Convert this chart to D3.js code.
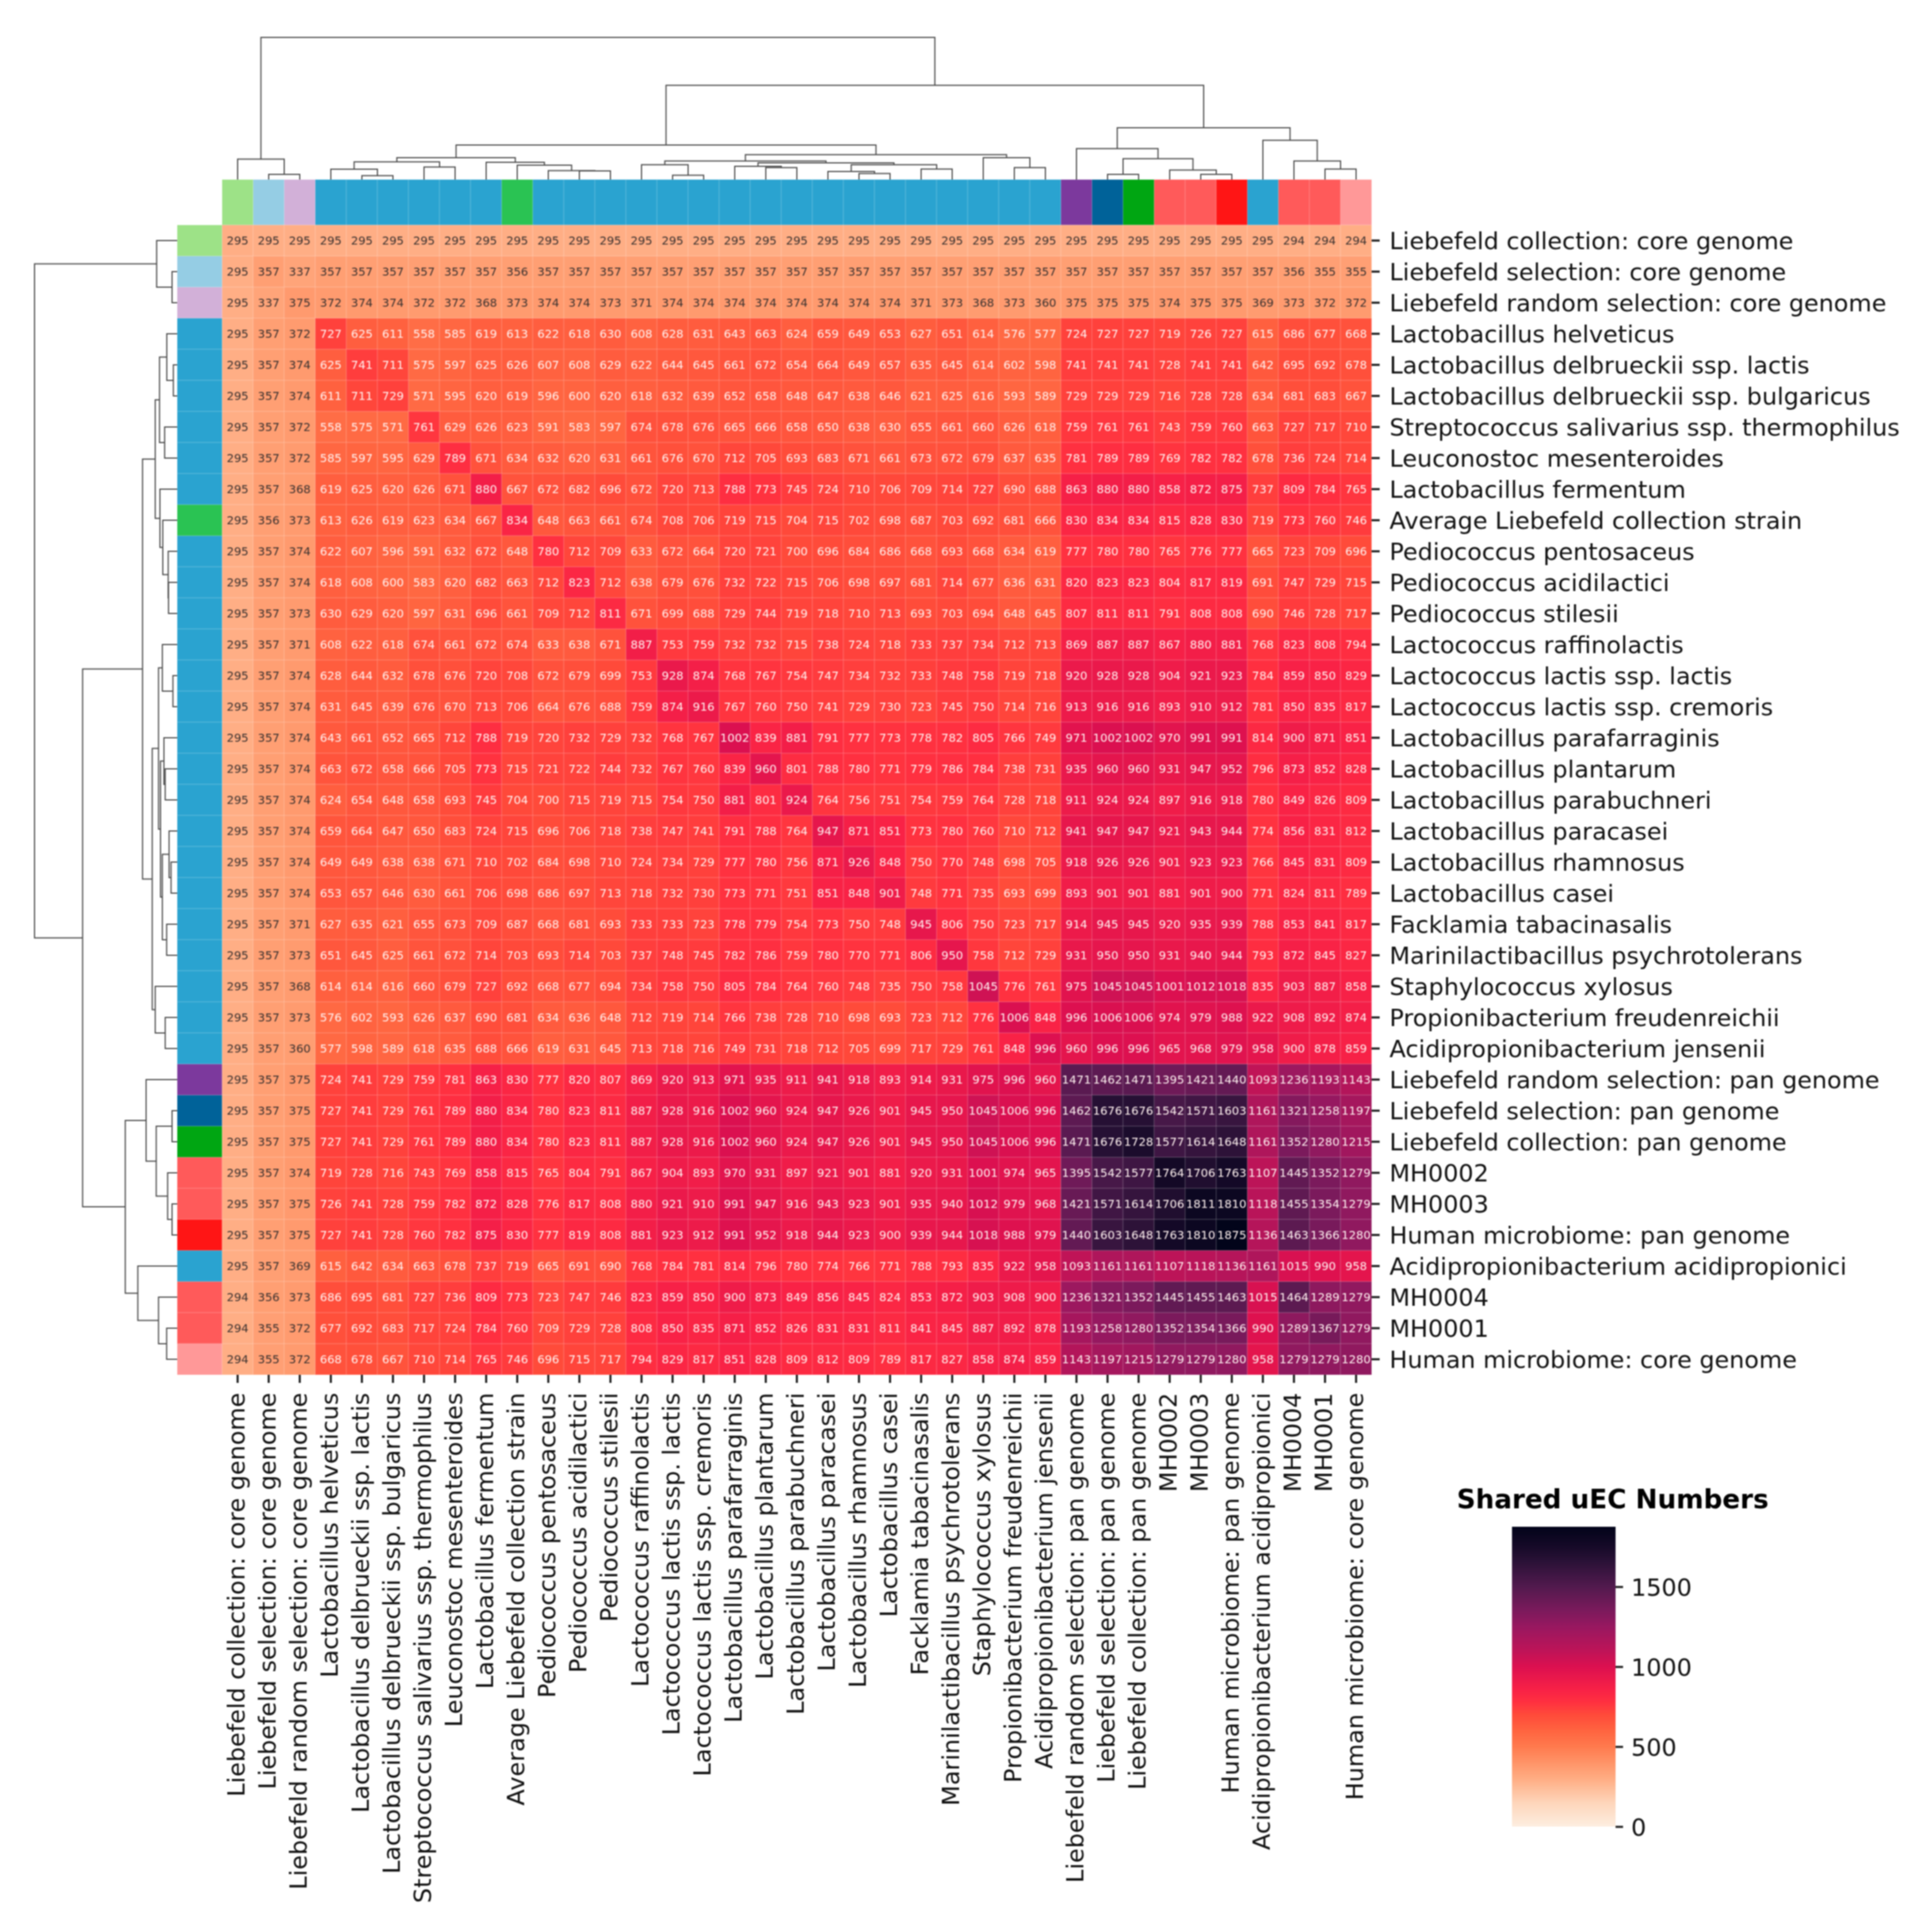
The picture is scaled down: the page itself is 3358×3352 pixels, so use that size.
<!DOCTYPE html>
<html>
<head>
<meta charset="utf-8">
<script src="https://cdn.jsdelivr.net/npm/d3@7"></script>
<style>
html,body{margin:0;padding:0;background:#fff}
svg{display:block;font-family:"DejaVu Sans",sans-serif;filter:blur(0.8px)}
</style>
</head>
<body>
<svg id="chart" width="3358" height="3352"></svg>
<script>
const labels = [
"Liebefeld collection: core genome","Liebefeld selection: core genome","Liebefeld random selection: core genome",
"Lactobacillus helveticus","Lactobacillus delbrueckii ssp. lactis","Lactobacillus delbrueckii ssp. bulgaricus",
"Streptococcus salivarius ssp. thermophilus","Leuconostoc mesenteroides","Lactobacillus fermentum",
"Average Liebefeld collection strain","Pediococcus pentosaceus","Pediococcus acidilactici","Pediococcus stilesii",
"Lactococcus raffinolactis","Lactococcus lactis ssp. lactis","Lactococcus lactis ssp. cremoris",
"Lactobacillus parafarraginis","Lactobacillus plantarum","Lactobacillus parabuchneri","Lactobacillus paracasei",
"Lactobacillus rhamnosus","Lactobacillus casei","Facklamia tabacinasalis","Marinilactibacillus psychrotolerans",
"Staphylococcus xylosus","Propionibacterium freudenreichii","Acidipropionibacterium jensenii",
"Liebefeld random selection: pan genome","Liebefeld selection: pan genome","Liebefeld collection: pan genome",
"MH0002","MH0003","Human microbiome: pan genome","Acidipropionibacterium acidipropionici","MH0004","MH0001",
"Human microbiome: core genome"];

const groupColors = ["#9de287","#95cde4","#d2b0d8",
"#2aa3d0","#2aa3d0","#2aa3d0","#2aa3d0","#2aa3d0","#2aa3d0","#2ac353","#2aa3d0","#2aa3d0","#2aa3d0","#2aa3d0",
"#2aa3d0","#2aa3d0","#2aa3d0","#2aa3d0","#2aa3d0","#2aa3d0","#2aa3d0","#2aa3d0","#2aa3d0","#2aa3d0","#2aa3d0",
"#2aa3d0","#2aa3d0","#7c399d","#006299","#00a612","#ff5a5a","#ff5a5a","#ff1515","#2aa3d0","#ff5a5a","#ff5a5a","#ff9898"];

const matrix = [
[295,295,295,295,295,295,295,295,295,295,295,295,295,295,295,295,295,295,295,295,295,295,295,295,295,295,295,295,295,295,295,295,295,295,294,294,294],
[295,357,337,357,357,357,357,357,357,356,357,357,357,357,357,357,357,357,357,357,357,357,357,357,357,357,357,357,357,357,357,357,357,357,356,355,355],
[295,337,375,372,374,374,372,372,368,373,374,374,373,371,374,374,374,374,374,374,374,374,371,373,368,373,360,375,375,375,374,375,375,369,373,372,372],
[295,357,372,727,625,611,558,585,619,613,622,618,630,608,628,631,643,663,624,659,649,653,627,651,614,576,577,724,727,727,719,726,727,615,686,677,668],
[295,357,374,625,741,711,575,597,625,626,607,608,629,622,644,645,661,672,654,664,649,657,635,645,614,602,598,741,741,741,728,741,741,642,695,692,678],
[295,357,374,611,711,729,571,595,620,619,596,600,620,618,632,639,652,658,648,647,638,646,621,625,616,593,589,729,729,729,716,728,728,634,681,683,667],
[295,357,372,558,575,571,761,629,626,623,591,583,597,674,678,676,665,666,658,650,638,630,655,661,660,626,618,759,761,761,743,759,760,663,727,717,710],
[295,357,372,585,597,595,629,789,671,634,632,620,631,661,676,670,712,705,693,683,671,661,673,672,679,637,635,781,789,789,769,782,782,678,736,724,714],
[295,357,368,619,625,620,626,671,880,667,672,682,696,672,720,713,788,773,745,724,710,706,709,714,727,690,688,863,880,880,858,872,875,737,809,784,765],
[295,356,373,613,626,619,623,634,667,834,648,663,661,674,708,706,719,715,704,715,702,698,687,703,692,681,666,830,834,834,815,828,830,719,773,760,746],
[295,357,374,622,607,596,591,632,672,648,780,712,709,633,672,664,720,721,700,696,684,686,668,693,668,634,619,777,780,780,765,776,777,665,723,709,696],
[295,357,374,618,608,600,583,620,682,663,712,823,712,638,679,676,732,722,715,706,698,697,681,714,677,636,631,820,823,823,804,817,819,691,747,729,715],
[295,357,373,630,629,620,597,631,696,661,709,712,811,671,699,688,729,744,719,718,710,713,693,703,694,648,645,807,811,811,791,808,808,690,746,728,717],
[295,357,371,608,622,618,674,661,672,674,633,638,671,887,753,759,732,732,715,738,724,718,733,737,734,712,713,869,887,887,867,880,881,768,823,808,794],
[295,357,374,628,644,632,678,676,720,708,672,679,699,753,928,874,768,767,754,747,734,732,733,748,758,719,718,920,928,928,904,921,923,784,859,850,829],
[295,357,374,631,645,639,676,670,713,706,664,676,688,759,874,916,767,760,750,741,729,730,723,745,750,714,716,913,916,916,893,910,912,781,850,835,817],
[295,357,374,643,661,652,665,712,788,719,720,732,729,732,768,767,1002,839,881,791,777,773,778,782,805,766,749,971,1002,1002,970,991,991,814,900,871,851],
[295,357,374,663,672,658,666,705,773,715,721,722,744,732,767,760,839,960,801,788,780,771,779,786,784,738,731,935,960,960,931,947,952,796,873,852,828],
[295,357,374,624,654,648,658,693,745,704,700,715,719,715,754,750,881,801,924,764,756,751,754,759,764,728,718,911,924,924,897,916,918,780,849,826,809],
[295,357,374,659,664,647,650,683,724,715,696,706,718,738,747,741,791,788,764,947,871,851,773,780,760,710,712,941,947,947,921,943,944,774,856,831,812],
[295,357,374,649,649,638,638,671,710,702,684,698,710,724,734,729,777,780,756,871,926,848,750,770,748,698,705,918,926,926,901,923,923,766,845,831,809],
[295,357,374,653,657,646,630,661,706,698,686,697,713,718,732,730,773,771,751,851,848,901,748,771,735,693,699,893,901,901,881,901,900,771,824,811,789],
[295,357,371,627,635,621,655,673,709,687,668,681,693,733,733,723,778,779,754,773,750,748,945,806,750,723,717,914,945,945,920,935,939,788,853,841,817],
[295,357,373,651,645,625,661,672,714,703,693,714,703,737,748,745,782,786,759,780,770,771,806,950,758,712,729,931,950,950,931,940,944,793,872,845,827],
[295,357,368,614,614,616,660,679,727,692,668,677,694,734,758,750,805,784,764,760,748,735,750,758,1045,776,761,975,1045,1045,1001,1012,1018,835,903,887,858],
[295,357,373,576,602,593,626,637,690,681,634,636,648,712,719,714,766,738,728,710,698,693,723,712,776,1006,848,996,1006,1006,974,979,988,922,908,892,874],
[295,357,360,577,598,589,618,635,688,666,619,631,645,713,718,716,749,731,718,712,705,699,717,729,761,848,996,960,996,996,965,968,979,958,900,878,859],
[295,357,375,724,741,729,759,781,863,830,777,820,807,869,920,913,971,935,911,941,918,893,914,931,975,996,960,1471,1462,1471,1395,1421,1440,1093,1236,1193,1143],
[295,357,375,727,741,729,761,789,880,834,780,823,811,887,928,916,1002,960,924,947,926,901,945,950,1045,1006,996,1462,1676,1676,1542,1571,1603,1161,1321,1258,1197],
[295,357,375,727,741,729,761,789,880,834,780,823,811,887,928,916,1002,960,924,947,926,901,945,950,1045,1006,996,1471,1676,1728,1577,1614,1648,1161,1352,1280,1215],
[295,357,374,719,728,716,743,769,858,815,765,804,791,867,904,893,970,931,897,921,901,881,920,931,1001,974,965,1395,1542,1577,1764,1706,1763,1107,1445,1352,1279],
[295,357,375,726,741,728,759,782,872,828,776,817,808,880,921,910,991,947,916,943,923,901,935,940,1012,979,968,1421,1571,1614,1706,1811,1810,1118,1455,1354,1279],
[295,357,375,727,741,728,760,782,875,830,777,819,808,881,923,912,991,952,918,944,923,900,939,944,1018,988,979,1440,1603,1648,1763,1810,1875,1136,1463,1366,1280],
[295,357,369,615,642,634,663,678,737,719,665,691,690,768,784,781,814,796,780,774,766,771,788,793,835,922,958,1093,1161,1161,1107,1118,1136,1161,1015,990,958],
[294,356,373,686,695,681,727,736,809,773,723,747,746,823,859,850,900,873,849,856,845,824,853,872,903,908,900,1236,1321,1352,1445,1455,1463,1015,1464,1289,1279],
[294,355,372,677,692,683,717,724,784,760,709,729,728,808,850,835,871,852,826,831,831,811,841,845,887,892,878,1193,1258,1280,1352,1354,1366,990,1289,1367,1279],
[294,355,372,668,678,667,710,714,765,746,696,715,717,794,829,817,851,828,809,812,809,789,817,827,858,874,859,1143,1197,1215,1279,1279,1280,958,1279,1279,1280]
];

// Linkage: [child A, child B, distance as % of the root]; ids above 36 are earlier merges (37 = first row)
const linkage = [
[1,2,3.6],[0,37,14.4],[4,5,2.7],[3,39,7.3],[6,7,8.8],[40,41,12.4],[11,12,6.1],[10,43,6.3],[9,44,10.1],[8,45,12.1],
[42,46,15.4],[14,15,3.0],[13,48,10.4],[17,18,8.4],[16,50,9.3],[20,21,4.3],[19,52,5.7],[22,23,7.4],[53,54,10.4],
[51,55,11.7],[49,56,13.1],[25,26,8.4],[24,58,15.4],[57,59,17.5],[47,60,24.3],[28,29,3.6],[31,32,3.6],[30,63,6.7],
[62,64,14.7],[27,65,21.8],[35,36,7.4],[34,67,13.1],[33,68,27.6],[66,69,36.4],[61,70,66.3],[38,71,100]
];

const cmapValues = [0,150,295,375,500,600,700,780,850,1000,1100,1250,1350,1500,1650,1750,1875];
const cmapColors = ["#fdeee0","#fed5ba","#ffae85","#ff9a6e","#ff7a4e","#ff6440","#ff4a3a","#ff3040","#f92246","#dc1050","#be1458","#981860","#7c1a5c","#521a4e","#2c1238","#160a28","#02041a"];
const colorbarTicks = [0,500,1000,1500];
const colorbarTitle = "Shared uEC Numbers";

const svg = d3.select("#chart");
const color = d3.scaleLinear().domain(cmapValues).range(cmapColors).clamp(true);
const x = d3.scaleBand().domain(labels).range([386,2384]);
const y = d3.scaleBand().domain(labels).range([391,2389]);
const grid = "rgba(255,255,255,0.11)";
const labelSize = 41.5;

// colour strips (drawn first so the heatmap sits flush against them)
svg.append("g").selectAll("rect").data(labels).join("rect")
  .attr("x",d=>x(d)).attr("y",312).attr("width",x.bandwidth()).attr("height",79)
  .attr("fill",(d,i)=>groupColors[i]).attr("stroke",grid).attr("stroke-width",2);
svg.append("g").selectAll("rect").data(labels).join("rect")
  .attr("x",308).attr("y",d=>y(d)).attr("width",78).attr("height",y.bandwidth())
  .attr("fill",(d,i)=>groupColors[i]).attr("stroke",grid).attr("stroke-width",2);

// heatmap
const cells = matrix.flatMap((row,r)=>row.map((v,c)=>({r:labels[r],c:labels[c],v})));
svg.append("g").selectAll("rect").data(cells).join("rect")
  .attr("x",d=>x(d.c)).attr("y",d=>y(d.r))
  .attr("width",x.bandwidth()).attr("height",y.bandwidth())
  .attr("fill",d=>color(d.v)).attr("stroke",grid).attr("stroke-width",2);
svg.append("g").attr("font-size",20).attr("text-anchor","middle")
  .selectAll("text").data(cells).join("text")
  .attr("x",d=>x(d.c)+x.bandwidth()/2).attr("y",d=>y(d.r)+y.bandwidth()/2)
  .attr("dy","0.36em")
  .attr("fill",d=>d.v<400?"#3a3230":"#fff2f0")
  .text(d=>d.v);

// dendrograms
const nodes = labels.map((d,i)=>({i,h:0}));
linkage.forEach(([a,b,h])=>nodes.push({a:nodes[a],b:nodes[b],h,i:(nodes[a].i+nodes[b].i)/2}));
const merges = nodes.filter(n=>n.a);
const pos = d3.scaleLinear().domain([0,labels.length]);
const hTop = d3.scaleLinear().domain([0,100]).range([312,65]);
const hLeft = d3.scaleLinear().domain([0,100]).range([308,60]);
const xPos = pos.copy().range(x.range());
const yPos = pos.copy().range(y.range());
svg.append("g").attr("fill","none").attr("stroke","#4a4a4a").attr("stroke-width",2)
  .selectAll("path").data(merges).join("path")
  .attr("d",n=>{const p=d3.path(),ax=xPos(n.a.i+.5),bx=xPos(n.b.i+.5);
    p.moveTo(ax,hTop(n.a.h));p.lineTo(ax,hTop(n.h));p.lineTo(bx,hTop(n.h));p.lineTo(bx,hTop(n.b.h));return p.toString();});
svg.append("g").attr("fill","none").attr("stroke","#4a4a4a").attr("stroke-width",2)
  .selectAll("path").data(merges).join("path")
  .attr("d",n=>{const p=d3.path(),ay=yPos(n.a.i+.5),by=yPos(n.b.i+.5);
    p.moveTo(hLeft(n.a.h),ay);p.lineTo(hLeft(n.h),ay);p.lineTo(hLeft(n.h),by);p.lineTo(hLeft(n.b.h),by);return p.toString();});

// axes
function styleAxis(g){
  g.attr("font-size",labelSize).attr("font-family","DejaVu Sans");
  g.select(".domain").remove();
  g.selectAll(".tick line").attr("stroke","#1c1c1c").attr("stroke-width",3.6);
  g.selectAll(".tick text").attr("fill","#111").attr("dy","0.37em");
}
svg.append("g").attr("transform","translate(2384,0)")
  .call(d3.axisRight(y).tickSize(14).tickPadding(17))
  .call(styleAxis);
svg.append("g").attr("transform","translate(0,2389)")
  .call(d3.axisBottom(x).tickSize(14).tickPadding(16))
  .call(styleAxis)
  .selectAll(".tick text")
  .attr("transform","rotate(-90)")
  .attr("text-anchor","end").attr("x",-31).attr("y",0).attr("dy","0.30em");

// colour bar
const cbY = d3.scaleLinear().domain([0,1875]).range([3174,2653]);
const defs = svg.append("defs");
const grad = defs.append("linearGradient").attr("id","cbar").attr("x1",0).attr("x2",0).attr("y1",1).attr("y2",0);
grad.selectAll("stop").data(cmapValues).join("stop")
  .attr("offset",d=>d/1875).attr("stop-color",d=>color(d));
svg.append("rect").attr("x",2628).attr("width",180)
  .attr("y",cbY(1875)).attr("height",cbY(0)-cbY(1875)).attr("fill","url(#cbar)");
svg.append("g").attr("transform","translate(2808,0)")
  .call(d3.axisRight(cbY).tickValues(colorbarTicks).tickFormat(d3.format("d")).tickSize(13).tickPadding(14))
  .call(styleAxis);
svg.append("text").attr("x",2803).attr("y",2621).attr("text-anchor","middle")
  .attr("font-size",45.6).attr("font-weight","bold").attr("fill","#000").text(colorbarTitle);
</script>
</body>
</html>
